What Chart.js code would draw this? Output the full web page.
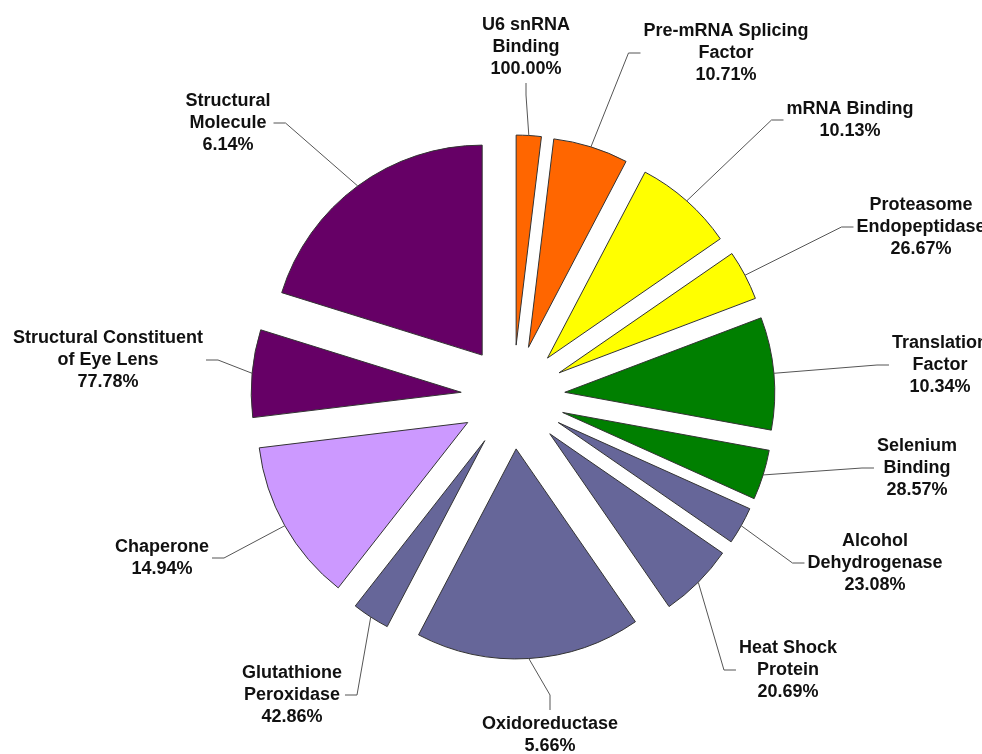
<!DOCTYPE html>
<html>
<head>
    <title>Molecular Function</title>
    <meta http-equiv="content-type" content="text/html;charset=UTF-8">
    <script src="https://cdn.jsdelivr.net/npm/chart.js"></script>
    <style>
        html, body {
            margin: 0;
            padding: 0;
            background-color: white;
        }

        .chart-container {
            width: 982px;
            height: 754px;
        }
    </style>
</head>
<body>
<div class="chart-container">
    <canvas id="myPieChart" width="982" height="754"></canvas>
</div>
<script>
    // slices run clockwise from 12 o'clock
    const categories = [
        ['U6 snRNA', 'Binding'],
        ['Pre-mRNA Splicing', 'Factor'],
        ['mRNA Binding'],
        ['Proteasome', 'Endopeptidase'],
        ['Translation', 'Factor'],
        ['Selenium', 'Binding'],
        ['Alcohol', 'Dehydrogenase'],
        ['Heat Shock', 'Protein'],
        ['Oxidoreductase'],
        ['Glutathione', 'Peroxidase'],
        ['Chaperone'],
        ['Structural Constituent', 'of Eye Lens'],
        ['Structural', 'Molecule']
    ];
    const geneCounts = [2, 6, 8, 4, 9, 4, 3, 6, 18, 3, 13, 7, 21];
    const percents = [100.00, 10.71, 10.13, 26.67, 10.34, 28.57, 23.08, 20.69, 5.66, 42.86, 14.94, 77.78, 6.14];
    const sliceColors = ['#FF6600', '#FF6600', '#FFFF00', '#FFFF00', '#007F00', '#007F00',
        '#666699', '#666699', '#666699', '#666699', '#CC99FF', '#660066', '#660066'];

    // label block centre (x, y) and the side where the leader line joins it
    const labelSpots = [
        [526, 47, 'bottom'],
        [726, 53, 'left'],
        [850, 120, 'left'],
        [921, 227, 'left'],
        [940, 365, 'left'],
        [917, 468, 'left'],
        [875, 563, 'left'],
        [788, 670, 'left'],
        [550, 735, 'top'],
        [292, 695, 'right'],
        [162, 558, 'right'],
        [108, 360, 'right'],
        [228, 123, 'right']
    ];

    const explode = 52;
    const lineHeight = 22;

    // pull every slice out along its bisector
    const explodePlugin = {
        id: 'explode',
        beforeDatasetDraw(chart, args) {
            const ctx = chart.ctx;
            args.meta.data.forEach(arc => {
                const mid = (arc.startAngle + arc.endAngle) / 2;
                ctx.save();
                ctx.translate(Math.cos(mid) * explode, Math.sin(mid) * explode);
                arc.draw(ctx);
                ctx.restore();
            });
            return false;
        }
    };

    const labelPlugin = {
        id: 'sliceLabels',
        afterDraw(chart) {
            const ctx = chart.ctx;
            const arcs = chart.getDatasetMeta(0).data;
            ctx.save();
            ctx.font = 'bold 18px "Liberation Sans", Arial, sans-serif';
            ctx.textAlign = 'center';
            ctx.textBaseline = 'middle';
            ctx.strokeStyle = '#555';
            ctx.lineWidth = 1;
            ctx.fillStyle = '#111';
            arcs.forEach((arc, i) => {
                const lines = categories[i].concat(percents[i].toFixed(2) + '%');
                const [cx, cy, side] = labelSpots[i];
                const top = cy - (lines.length - 1) * lineHeight / 2;
                const bottom = top + (lines.length - 1) * lineHeight;
                const w = Math.max(...lines.map(t => ctx.measureText(t).width));

                const mid = (arc.startAngle + arc.endAngle) / 2;
                const r = arc.outerRadius + explode;
                const px = arc.x + Math.cos(mid) * r;
                const py = arc.y + Math.sin(mid) * r;

                let ax, ay, ex, ey;
                if (side === 'left') {
                    ax = cx - w / 2 - 3; ay = cy; ex = ax - 12; ey = ay;
                } else if (side === 'right') {
                    ax = cx + w / 2 + 3; ay = cy; ex = ax + 12; ey = ay;
                } else if (side === 'bottom') {
                    ax = cx; ay = bottom + 14; ex = ax; ey = ay + 12;
                } else {
                    ax = cx; ay = top - 14; ex = ax; ey = ay - 15;
                }
                ctx.beginPath();
                ctx.moveTo(px, py);
                ctx.lineTo(ex, ey);
                ctx.lineTo(ax, ay);
                ctx.stroke();

                lines.forEach((t, k) => ctx.fillText(t, cx, top + k * lineHeight));
            });
            ctx.restore();
        }
    };

    const ctx = document.getElementById('myPieChart').getContext('2d');
    const myPieChart = new Chart(ctx, {
        type: 'pie',
        data: {
            labels: categories,
            datasets: [{
                data: geneCounts,
                backgroundColor: sliceColors,
                borderColor: '#333',
                borderWidth: 1
            }]
        },
        options: {
            responsive: false,
            animation: false,
            events: [],
            radius: 210,
            layout: {
                padding: {left: 44, top: 40, right: 0, bottom: 0}
            },
            plugins: {
                legend: {display: false},
                tooltip: {enabled: false}
            }
        },
        plugins: [explodePlugin, labelPlugin]
    });
</script>
</body>
</html>
